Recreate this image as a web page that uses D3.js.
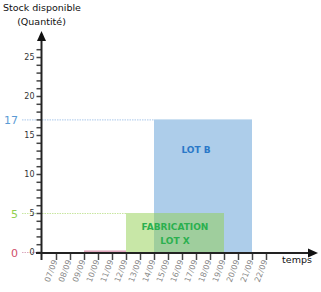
<!DOCTYPE html>
<html><head><meta charset="utf-8">
<script src="https://cdn.jsdelivr.net/npm/d3@7"></script>
<style>body{margin:0;background:#fff}svg{display:block}</style>
</head><body>
<script>
const dates = ["07/09","08/09","09/09","10/09","11/09","12/09","13/09","14/09","15/09","16/09","17/09","18/09","19/09","20/09","21/09","22/09"];
const yMajorTicks = [0,5,10,15,20,25];
const barNames = ["zero","LOT X","LOT B"];
const barStart = ["09/09","12/09","14/09"];
const barEnd = ["12/09","19/09","21/09"];
const barValue = [0.2,5,17];
const refValues = [17,5,0];
const refLabels = ["17","5","0"];
const refEnd = ["14/09","12/09","09/09"];

const W=321,H=292;
const svg=d3.select("body").append("svg").attr("width",W).attr("height",H);
const font="DejaVu Sans, Verdana, sans-serif";
const x=d3.scaleLinear().domain([0,15]).range([56,266]);
const xd=d=>x(dates.indexOf(d));
const y=d3.scaleLinear().domain([0,25]).range([252,57]);
const axisX=41.5, axisY=253;

// ref dotted lines
const refColors=["#5b9bd5","#92d050","#d0506a"];
const refLineColors=["#a9c8ea","#c8e6a0","#dba8bd"];
refValues.forEach((v,i)=>{
  svg.append("line").attr("x1",22).attr("x2",xd(refEnd[i])).attr("y1",y(v)+0.5).attr("y2",y(v)+0.5)
    .attr("stroke",refLineColors[i]).attr("stroke-width",1).attr("stroke-dasharray","1.5,1");
  svg.append("text").attr("x",18).attr("y",y(v)+5).attr("text-anchor","end")
    .attr("font-family",font).attr("font-size",11).attr("fill",refColors[i]).text(refLabels[i]);
});

// bars
const barFill=["#c0507a","#92d050","#5b9bd5"];
[2,1,0].forEach(i=>{
  svg.append("rect").attr("x",xd(barStart[i])).attr("width",xd(barEnd[i])-xd(barStart[i]))
    .attr("y",y(barValue[i])).attr("height",y(0)-y(barValue[i])).attr("fill",barFill[i]).attr("fill-opacity",0.5);
});
// bar labels
const bB=2, bX=1;
svg.append("text").attr("x",(xd(barStart[bB])+xd(barEnd[bB]))/2-7).attr("y",y(13)+2)
  .attr("text-anchor","middle").attr("font-family",font).attr("font-weight","bold").attr("font-size",9)
  .attr("fill","#2a78c8").text("LOT B");
const gx=(xd(barStart[bX])+xd(barEnd[bX]))/2;
svg.append("text").attr("x",gx).attr("y",y(3)+1).attr("text-anchor","middle").attr("font-family",font)
  .attr("font-weight","bold").attr("font-size",9).attr("fill","#2bb04f").text("FABRICATION");
svg.append("text").attr("x",gx).attr("y",y(1)).attr("text-anchor","middle").attr("font-family",font)
  .attr("font-weight","bold").attr("font-size",9).attr("fill","#2bb04f").text("LOT X");

// y axis
const yAxis=d3.axisLeft(y).tickValues(d3.range(0,27,1)).tickSize(5).tickPadding(2)
  .tickFormat(d=>yMajorTicks.includes(d)?d:"");
const gy=svg.append("g").attr("transform",`translate(${axisX},0)`).call(yAxis);
gy.select(".domain").remove();
gy.selectAll("line").attr("stroke","#444").attr("stroke-width",1.5);
gy.selectAll("text").attr("font-family",font).attr("font-size",8).attr("fill","#333");

// x axis
const xAxis=d3.axisBottom(x).tickValues(d3.range(0,16)).tickSize(7).tickFormat(i=>dates[i]);
const gxA=svg.append("g").attr("transform",`translate(0,${axisY})`).call(xAxis);
gxA.select(".domain").remove();
gxA.selectAll("line").attr("stroke","#444").attr("stroke-width",1.5);
gxA.selectAll("text").attr("font-family",font).attr("font-size",8).attr("fill","#888")
  .attr("text-anchor","end").attr("dy",0).attr("y",0)
  .attr("transform","translate(1,8) rotate(-70)");

// axis lines with arrows
svg.append("line").attr("x1",axisX).attr("x2",axisX).attr("y1",260).attr("y2",40).attr("stroke","#222").attr("stroke-width",2);
svg.append("path").attr("d",`M${axisX},31 L${axisX-4.5},41 L${axisX+4.5},41 Z`).attr("fill","#111");
svg.append("line").attr("x1",36).attr("x2",309).attr("y1",axisY).attr("y2",axisY).attr("stroke","#222").attr("stroke-width",2);
svg.append("path").attr("d",`M318,${axisY} L308,${axisY-4.5} L308,${axisY+4.5} Z`).attr("fill","#111");

// titles
svg.append("text").attr("x",3).attr("y",11).attr("font-family",font).attr("font-size",9.5).attr("fill","#111").text("Stock disponible");
svg.append("text").attr("x",axisX).attr("y",25).attr("text-anchor","middle").attr("font-family",font).attr("font-size",9.5).attr("fill","#111").text("(Quantité)");
svg.append("text").attr("x",297).attr("y",263).attr("text-anchor","middle").attr("font-family",font).attr("font-size",9.5).attr("fill","#111").text("temps");
</script>
</body></html>
